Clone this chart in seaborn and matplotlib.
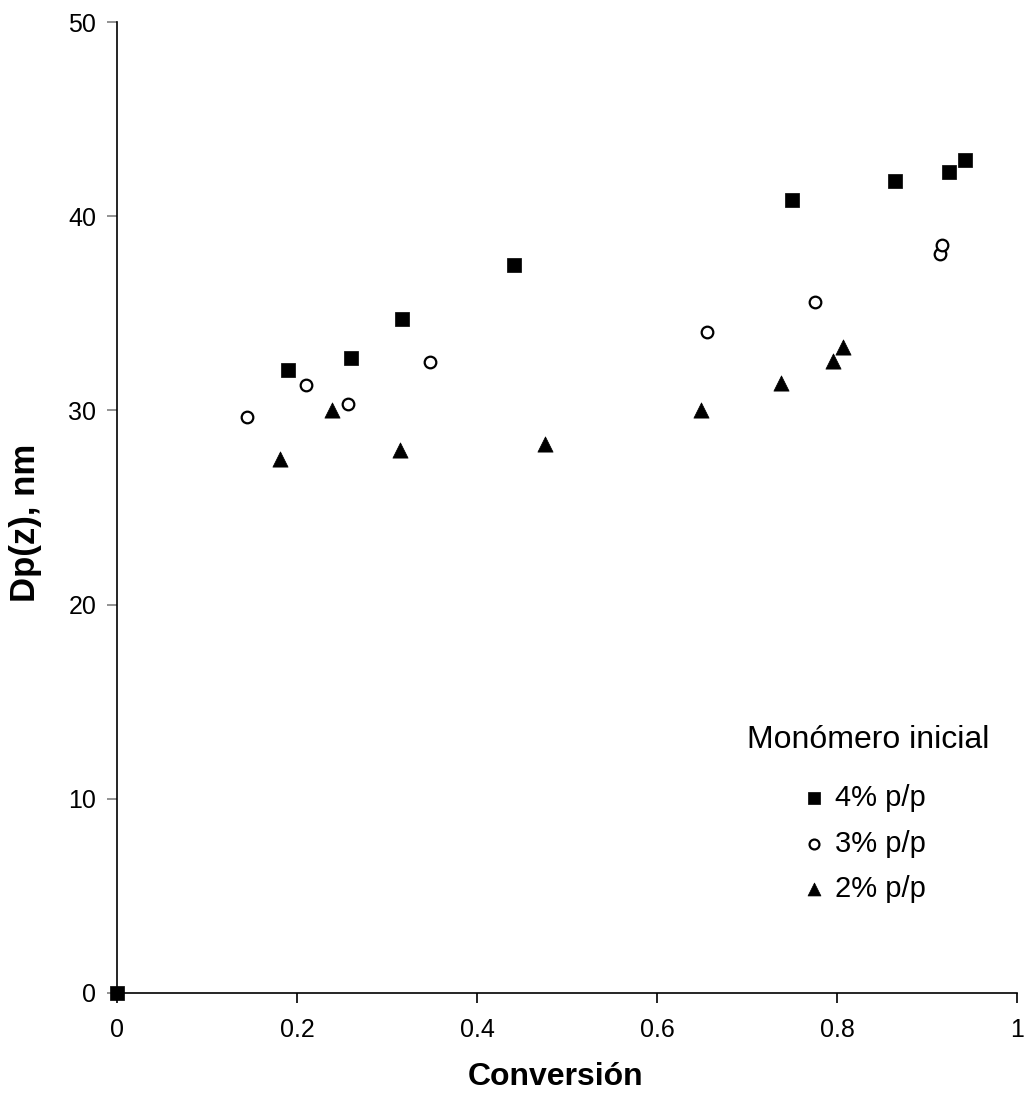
import matplotlib
matplotlib.use("Agg")
import matplotlib.pyplot as plt
import seaborn as sns
import pandas as pd

sns.set_theme(style="white")
plt.rcParams['font.family'] = ['Liberation Sans', 'DejaVu Sans']
plt.rcParams['text.color'] = 'black'
plt.rcParams['axes.labelcolor'] = 'black'

# Particle size Dp(z) vs conversion for three initial monomer loadings
conv_4 = [0.0, 0.190, 0.260, 0.317, 0.441, 0.750, 0.864, 0.924, 0.942]
dp_4 = [0.0, 32.1, 32.7, 34.7, 37.5, 40.85, 41.8, 42.3, 42.9]

conv_3 = [0.144, 0.210, 0.257, 0.348, 0.655, 0.775, 0.914, 0.917]
dp_3 = [29.65, 31.3, 30.35, 32.5, 34.05, 35.6, 38.05, 38.5]

conv_2 = [0.181, 0.239, 0.314, 0.476, 0.649, 0.738, 0.796, 0.807]
dp_2 = [27.5, 30.0, 27.95, 28.25, 30.0, 31.4, 32.55, 33.25]

series_labels = ["4% p/p", "3% p/p", "2% p/p"]
legend_title = "Monómero inicial"

df = pd.concat([
    pd.DataFrame({"x": conv_4, "y": dp_4, "serie": series_labels[0]}),
    pd.DataFrame({"x": conv_3, "y": dp_3, "serie": series_labels[1]}),
    pd.DataFrame({"x": conv_2, "y": dp_2, "serie": series_labels[2]}),
], ignore_index=True)

fig = plt.figure(figsize=(10.24, 10.95), dpi=100)
ax = fig.add_axes([117 / 1024, 1 - 993 / 1095, 900 / 1024, 971 / 1095])

styles = {
    series_labels[0]: dict(marker="s", s=95, facecolor="black", edgecolor="black", linewidth=0.5),
    series_labels[1]: dict(marker="o", s=70, facecolor="white", edgecolor="black", linewidth=1.6),
    series_labels[2]: dict(marker="^", s=120, facecolor="black", edgecolor="black", linewidth=0.5),
}
for lab in series_labels:
    sub = df[df["serie"] == lab]
    st = styles[lab]
    sns.scatterplot(data=sub, x="x", y="y", ax=ax, marker=st["marker"], s=st["s"],
                    color=st["facecolor"], edgecolor=st["edgecolor"],
                    linewidth=st["linewidth"], label=lab, clip_on=False, zorder=3)

ax.set_xlim(0, 1)
ax.set_ylim(0, 50)
ax.set_xticks([0, 0.2, 0.4, 0.6, 0.8, 1.0])
ax.set_xticklabels(["0", "0.2", "0.4", "0.6", "0.8", "1"])
ax.set_yticks([0, 10, 20, 30, 40, 50])

for side in ["top", "right"]:
    ax.spines[side].set_visible(False)
for side in ["left", "bottom"]:
    ax.spines[side].set_color("black")
    ax.spines[side].set_linewidth(1.2)

ax.tick_params(axis="y", which="major", direction="out", length=7, width=1.2,
               color="#808080", labelcolor="black", labelsize=18, pad=8, left=True)
ax.tick_params(axis="x", which="major", direction="out", length=7, width=1.2,
               color="black", labelcolor="black", labelsize=18, pad=11, bottom=True)

ax.set_xlabel("Conversión", fontsize=23, fontweight="bold")
ax.xaxis.set_label_coords((556 - 117) / 900, -(1062 - 993) / 971)
ax.set_ylabel("Dp(z), nm", fontsize=25, fontweight="bold")
ax.yaxis.set_label_coords(-(117 - 42) / 900, (993 - 523) / 971)

# Legend heading drawn as axes text, entries as a frameless legend below it
ax.text((868 - 117) / 900, (993 - 740) / 971, legend_title, transform=ax.transAxes,
        ha="center", va="center", fontsize=23)
leg = ax.legend(loc="upper center",
                bbox_to_anchor=((864 - 117) / 900, (993 - 784) / 971),
                borderaxespad=0, borderpad=0, frameon=False, fontsize=21,
                markerscale=0.85, handletextpad=0.3, handlelength=0.8,
                labelspacing=0.6)

fig.savefig("out.png", dpi=100, facecolor="white")
